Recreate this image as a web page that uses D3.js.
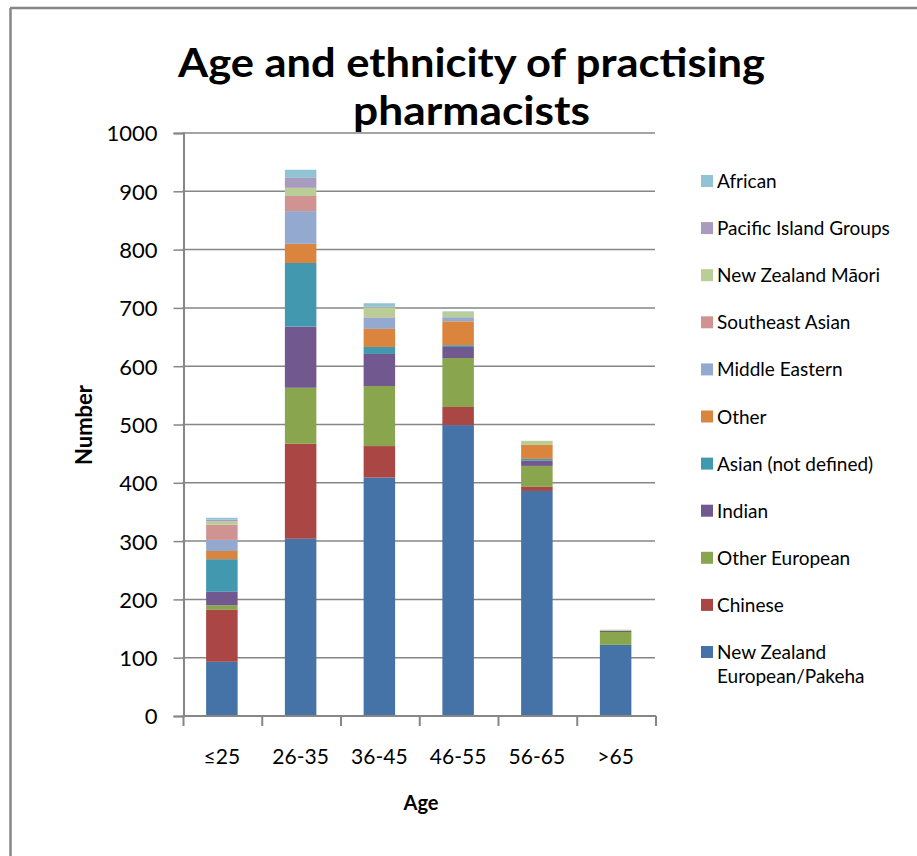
<!DOCTYPE html>
<html><head><meta charset="utf-8">
<script src="https://cdn.jsdelivr.net/npm/d3@7"></script>
<style>body{margin:0;background:#fff}svg{display:block}</style>
</head><body>
<svg id="c" width="917" height="856"></svg>
<script>
const categories = ["≤25","26-35","36-45","46-55","56-65",">65"];
const seriesNames = ["New Zealand European/Pakeha","Chinese","Other European","Indian","Asian (not defined)","Other","Middle Eastern","Southeast Asian","New Zealand Māori","Pacific Island Groups","African"];
const nzEuropean    = [93, 304, 409, 499, 386, 122];
const chinese       = [89, 163, 54, 31, 7, 0];
const otherEuropean = [8, 96, 103, 84, 36, 22];
const indian        = [23, 105, 55, 19, 9, 2];
const asianND       = [56, 109, 12, 3, 3, 0];
const other         = [14, 33, 31, 41, 24, 0];
const middleEastern = [19, 56, 19, 7, 0, 0];
const seAsian       = [26, 26, 1, 0, 0, 0];
const maori         = [6, 14, 17, 9, 7, 2];
const pacific       = [3, 17, 1, 0, 0, 0];
const african       = [3, 14, 6, 1, 0, 0];
const yTicks = [0,100,200,300,400,500,600,700,800,900,1000];
const colors = ["#4572A7","#AA4643","#89A54E","#71588F","#4198AF","#DB843D","#93A9CF","#D19392","#B9CD96","#A99BBD","#92C3D5"];

const seriesValues = [nzEuropean, chinese, otherEuropean, indian, asianND, other, middleEastern, seAsian, maori, pacific, african];
const table = categories.map((c,i)=>{const o={cat:c}; seriesNames.forEach((s,j)=>o[s]=seriesValues[j][i]); return o;});
const stacked = d3.stack().keys(seriesNames)(table);

const svg = d3.select("#c");
const FONT = "Lato, 'Open Sans', sans-serif";
const grey = "#868686";

// frame
svg.append("line").attr("x1",10.5).attr("x2",10.5).attr("y1",8).attr("y2",856).attr("stroke",grey).attr("stroke-width",2.5);
svg.append("line").attr("x1",10).attr("x2",917).attr("y1",8).attr("y2",8).attr("stroke",grey).attr("stroke-width",2.5);

const x = d3.scaleBand().domain(categories).range([182.5,655]).paddingInner(0.6).paddingOuter(0.3);
const y = d3.scaleLinear().domain([0,1000]).range([716,133]);

// gridlines
svg.append("g").selectAll("line").data(yTicks.filter(t=>t>0)).join("line")
  .attr("x1",182.5).attr("x2",655).attr("y1",d=>y(d)).attr("y2",d=>y(d))
  .attr("stroke",grey).attr("stroke-width",1.5);

// y axis
const yAxis = svg.append("g").attr("transform","translate(183.5,0)")
  .call(d3.axisLeft(y).tickValues(yTicks).tickSize(10).tickPadding(16).tickFormat(d3.format("d")));
yAxis.select(".domain").attr("stroke",grey).attr("stroke-width",2);
yAxis.selectAll(".tick line").attr("stroke",grey).attr("stroke-width",1.5);
yAxis.selectAll("text").attr("font-family",FONT).attr("font-size",22).attr("fill","#000").attr("dy","0.36em");

// bars
svg.append("g").selectAll("g").data(stacked).join("g").attr("fill",(d,i)=>colors[i])
  .selectAll("rect").data(d=>d).join("rect")
  .attr("x",d=>x(d.data.cat)).attr("width",x.bandwidth())
  .attr("y",d=>y(d[1])).attr("height",d=>y(d[0])-y(d[1]));

// x axis
const step = x.step();
const xAxis = svg.append("g").attr("transform","translate(0,716)");
xAxis.append("line").attr("x1",182.5).attr("x2",656).attr("stroke",grey).attr("stroke-width",2);
xAxis.selectAll("line.t").data(d3.range(categories.length+1)).join("line").attr("class","t")
  .attr("x1",i=>183.5+i*step).attr("x2",i=>183.5+i*step).attr("y1",0).attr("y2",10)
  .attr("stroke",grey).attr("stroke-width",2);
xAxis.selectAll("text").data(categories).join("text")
  .attr("x",d=>x(d)+x.bandwidth()/2).attr("y",48).attr("text-anchor","middle")
  .attr("font-family",FONT).attr("font-size",21).attr("fill","#000").text(d=>d);

// axis titles
svg.append("text").attr("x",421).attr("y",810).attr("text-anchor","middle")
  .attr("font-family",FONT).attr("font-weight","bold").attr("font-size",20).text("Age");
svg.append("text").attr("transform","translate(92,425) rotate(-90)").attr("text-anchor","middle")
  .attr("font-family",FONT).attr("font-weight","bold").attr("font-size",22).text("Number");

// title
const t = svg.append("g").attr("font-family",FONT).attr("font-weight","bold").attr("font-size",40).attr("text-anchor","middle");
t.append("text").attr("x",471.5).attr("y",77).attr("textLength",587).attr("lengthAdjust","spacingAndGlyphs").text("Age and ethnicity of practising");
t.append("text").attr("x",471.5).attr("y",125).attr("textLength",237).attr("lengthAdjust","spacingAndGlyphs").text("pharmacists");

// legend
const legendItems = seriesNames.map((s,i)=>({name:s,color:colors[i]})).reverse();
const lg = svg.append("g").selectAll("g").data(legendItems).join("g")
  .attr("transform",(d,i)=>`translate(701,${181+i*47.1})`);
lg.append("rect").attr("x",0).attr("y",-6).attr("width",12).attr("height",12).attr("fill",d=>d.color);
lg.each(function(d){
  const g = d3.select(this);
  const tx = g.append("text").attr("x",16).attr("font-family",FONT).attr("font-size",19).attr("fill","#000");
  if (d.name === "New Zealand European/Pakeha") {
    tx.append("tspan").attr("x",16).attr("y",7).text("New Zealand");
    tx.append("tspan").attr("x",16).attr("y",31).text("European/Pakeha");
  } else {
    tx.attr("y",7).text(d.name);
  }
});
</script>
</body></html>
